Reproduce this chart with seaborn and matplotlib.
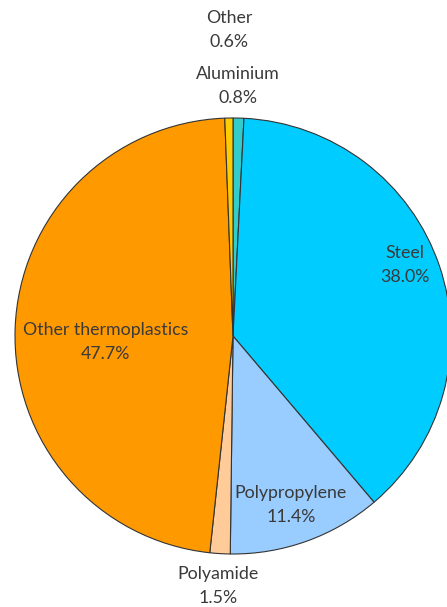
import numpy as np
import pandas as pd
import seaborn as sns
import matplotlib.pyplot as plt

# materials, clockwise from 12 o'clock
materials = ['Aluminium', 'Steel', 'Polypropylene', 'Polyamide', 'Other thermoplastics', 'Other']
shares = [0.8, 38.0, 11.4, 1.5, 47.7, 0.6]
colors = ['#33CCCC', '#00CCFF', '#99CCFF', '#FFCC99', '#FF9900', '#FFCC00']

# label anchors (pie radius = 1)
label_pos = [(0.023, 1.147), (0.789, 0.326), (0.266, -0.775),
             (-0.069, -1.147), (-0.583, -0.028), (-0.018, 1.404)]

sns.set_theme(style='white')
plt.rcParams['font.family'] = ['Lato', 'DejaVu Sans']

df = pd.DataFrame({'material': materials, 'share': shares})

fig = plt.figure(figsize=(4.47, 6.07), dpi=100)
ax = fig.add_axes([0, 0, 1, 1])
ax.pie(df['share'], colors=sns.color_palette(colors), startangle=90, counterclock=False,
       radius=1, wedgeprops=dict(edgecolor='#333333', linewidth=0.8))

for (name, val), (x, y) in zip(zip(df['material'], df['share']), label_pos):
    ax.text(x, y, f'{name}\n{val:.1f}%', ha='center', va='center', fontsize=12.8,
            color='#3a3a3a', linespacing=1.6)

scale = 218.0
ax.set_xlim(-233 / scale, (447 - 233) / scale)
ax.set_ylim(-(607 - 336) / scale, 336 / scale)
ax.set_aspect('auto')
ax.axis('off')

fig.savefig('out.png', dpi=100)
